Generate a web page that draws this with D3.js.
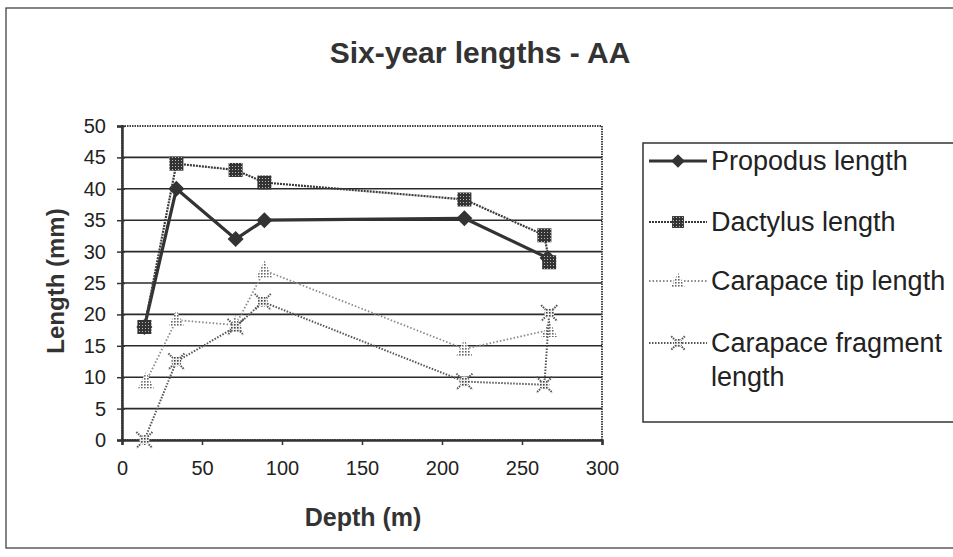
<!DOCTYPE html>
<html><head><meta charset="utf-8">
<script src="https://cdn.jsdelivr.net/npm/d3@7/dist/d3.min.js"></script>
<style>body{margin:0;background:#fff;}svg{display:block;font-family:"Liberation Sans",Arial,sans-serif;}</style>
</head><body>
<script>
const title = "Six-year lengths - AA";
const xTicks = [0, 50, 100, 150, 200, 250, 300];
const yTicks = [0, 5, 10, 15, 20, 25, 30, 35, 40, 45, 50];
const seriesNames = ["Propodus length", "Dactylus length", "Carapace tip length", "Carapace fragment length"];
const propodusDepth = [14, 34, 71, 89, 214, 266];
const propodus = [18, 40, 32, 35, 35.3, 29];
const dactylusDepth = [14, 34, 71, 89, 214, 264, 267];
const dactylus = [18, 44, 43, 41, 38.3, 32.6, 28.3];
const tipDepth = [15, 34, 71, 89, 214, 267];
const tip = [9.3, 19.1, 18.3, 27, 14.5, 17.5];
const fragDepth = [14, 34, 71, 88, 214, 264, 267];
const frag = [0, 12.5, 18, 22, 9.3, 8.8, 20.2];

const W = 953, H = 557;
const FONT = "Liberation Sans, Arial, sans-serif";
const svg = d3.select("body").append("svg").attr("width", W).attr("height", H);
const defs = svg.append("defs");
const p1 = defs.append("pattern").attr("id","check").attr("width",3).attr("height",3).attr("patternUnits","userSpaceOnUse");
p1.append("rect").attr("width",3).attr("height",3).attr("fill","#333");
p1.append("rect").attr("x",1).attr("y",1).attr("width",1).attr("height",1).attr("fill","#bbb");
const p2 = defs.append("pattern").attr("id","dots").attr("width",3).attr("height",3).attr("patternUnits","userSpaceOnUse");
p2.append("rect").attr("width",3).attr("height",3).attr("fill","#fff");
p2.append("rect").attr("width",1.6).attr("height",1.6).attr("fill","#666");
const p3 = defs.append("pattern").attr("id","dots2").attr("width",3).attr("height",3).attr("patternUnits","userSpaceOnUse");
p3.append("rect").attr("width",3).attr("height",3).attr("fill","#eee");
p3.append("rect").attr("width",1.6).attr("height",1.6).attr("fill","#444");

svg.append("rect").attr("x",6).attr("y",8).attr("width",W+10).attr("height",540)
  .attr("fill","none").attr("stroke","#333").attr("stroke-width",1.2);

svg.append("text").attr("x",480).attr("y",63).attr("text-anchor","middle")
  .attr("font-size",30).attr("font-weight","bold").attr("fill","#333").text(title);

const x = d3.scaleLinear().domain([0,300]).range([122,602]);
const y = d3.scaleLinear().domain([0,50]).range([440,126]);

svg.append("g").selectAll("line").data(yTicks.slice(1,-1)).join("line")
  .attr("x1",x(0)).attr("x2",x(300)).attr("y1",d=>y(d)).attr("y2",d=>y(d))
  .attr("stroke","#2a2a2a").attr("stroke-width",1.6);

svg.append("rect").attr("x",x(0)).attr("y",y(50)).attr("width",x(300)-x(0)).attr("height",y(0)-y(50))
  .attr("fill","none").attr("stroke","#444").attr("stroke-width",2).attr("stroke-dasharray","1.5,1");

const yAxis = d3.axisLeft(y).tickValues(yTicks).tickSize(5).tickPadding(11);
const gy = svg.append("g").attr("transform",`translate(${x(0)},0)`).call(yAxis);
gy.attr("font-size",20).attr("font-family",FONT);
gy.select(".domain").attr("stroke","#333").attr("stroke-width",2.5);
gy.selectAll(".tick line").attr("stroke","#333").attr("stroke-width",1.5).attr("x2",-5).attr("x1",3);
gy.selectAll(".tick text").attr("fill","#222");

const xAxis = d3.axisBottom(x).tickValues(xTicks).tickSize(5).tickPadding(16);
const gx = svg.append("g").attr("transform",`translate(0,${y(0)})`).call(xAxis);
gx.attr("font-size",20).attr("font-family",FONT);
gx.select(".domain").attr("stroke","#333").attr("stroke-width",2.5);
gx.selectAll(".tick line").attr("stroke","#333").attr("stroke-width",1.5);
gx.selectAll(".tick text").attr("fill","#222");

svg.append("text").attr("x",363).attr("y",526).attr("text-anchor","middle")
  .attr("font-size",25).attr("font-weight","bold").attr("fill","#333").text("Depth (m)");
svg.append("text").attr("transform","translate(64,281) rotate(-90)").attr("text-anchor","middle")
  .attr("font-size",24).attr("font-weight","bold").attr("fill","#333").text("Length (mm)");

const line = d3.line().x(d=>x(d[0])).y(d=>y(d[1]));
const zip = (a,b)=>a.map((v,i)=>[v,b[i]]);

const styles = [
  {data: zip(propodusDepth, propodus), stroke:"#333", width:3.2, dash:null, marker:"diamond"},
  {data: zip(dactylusDepth, dactylus), stroke:"#3a3a3a", width:2.2, dash:"2,1", marker:"square"},
  {data: zip(tipDepth, tip), stroke:"#8a8a8a", width:1.8, dash:"1.5,2", marker:"triangle"},
  {data: zip(fragDepth, frag), stroke:"#555", width:2, dash:"1.5,1.5", marker:"x"}
];

function drawMarker(g, type, cx, cy, scale){
  const s = scale||1;
  if(type==="diamond"){
    g.append("path").attr("d",`M${cx},${cy-8*s}L${cx+8*s},${cy}L${cx},${cy+8*s}L${cx-8*s},${cy}Z`).attr("fill","#333");
  } else if(type==="square"){
    g.append("rect").attr("x",cx-7*s).attr("y",cy-7*s).attr("width",14*s).attr("height",14*s).attr("fill","url(#check)");
  } else if(type==="triangle"){
    g.append("path").attr("d",`M${cx},${cy-10*s}L${cx+8*s},${cy+7*s}L${cx-8*s},${cy+7*s}Z`).attr("fill","url(#dots)");
  } else {
    g.append("path").attr("d",`M${cx-8*s},${cy-8*s}L${cx+8*s},${cy+8*s}M${cx+8*s},${cy-8*s}L${cx-8*s},${cy+8*s}`)
      .attr("stroke","#555").attr("stroke-width",2).attr("stroke-dasharray","1.5,1");
    g.append("circle").attr("cx",cx).attr("cy",cy).attr("r",5*s).attr("fill","url(#dots2)");
  }
}

const order = [2,3,0,1];
order.forEach(i=>{
  const st = styles[i];
  const g = svg.append("g");
  g.append("path").datum(st.data).attr("d",line).attr("fill","none")
    .attr("stroke",st.stroke).attr("stroke-width",st.width)
    .attr("stroke-dasharray",st.dash).attr("stroke-linejoin","round");
  st.data.forEach(d=>drawMarker(g, st.marker, x(d[0]), y(d[1])));
});

const lg = svg.append("g");
lg.append("rect").attr("x",643).attr("y",143).attr("width",330).attr("height",279)
  .attr("fill","#fff").attr("stroke","#333").attr("stroke-width",1.5);
const legY = [161, 222, 281, 343];
styles.forEach((st,i)=>{
  lg.append("line").attr("x1",649).attr("x2",707).attr("y1",legY[i]).attr("y2",legY[i])
    .attr("stroke",st.stroke).attr("stroke-width",st.width).attr("stroke-dasharray",st.dash);
  drawMarker(lg, st.marker, 678, legY[i], 0.85);
});
const legText = lg.append("g").attr("font-size",27).attr("fill","#222");
legText.append("text").attr("x",711).attr("y",legY[0]+9).text(seriesNames[0]);
legText.append("text").attr("x",711).attr("y",legY[1]+9).text(seriesNames[1]);
legText.append("text").attr("x",711).attr("y",legY[2]+9).text(seriesNames[2]);
legText.append("text").attr("x",711).attr("y",legY[3]+9).text("Carapace fragment");
legText.append("text").attr("x",711).attr("y",legY[3]+43).text("length");
</script>
</body></html>
